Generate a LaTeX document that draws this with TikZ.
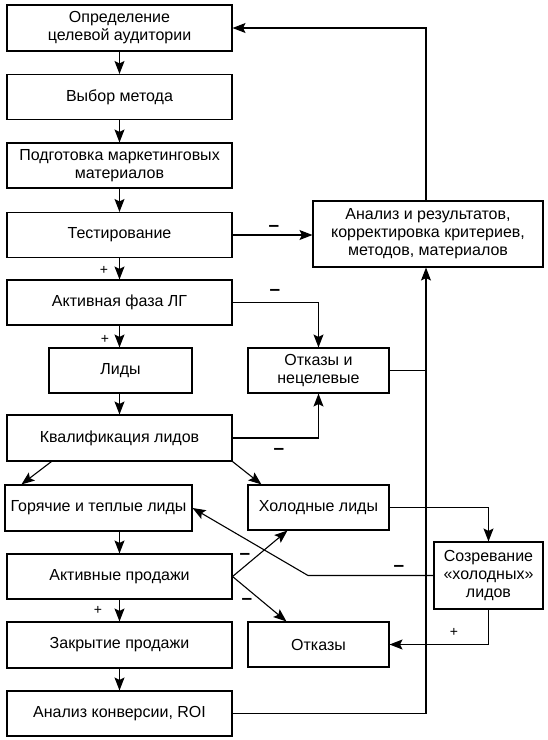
\documentclass[tikz,border=0pt]{standalone}
\usepackage{fontspec}
\setmainfont{Liberation Sans}
\usetikzlibrary{arrows.meta,calc}
\begin{document}
\begin{tikzpicture}[x=1pt,y=-1pt,
  box/.style={draw, line width=1.1pt, align=center, inner sep=0pt, font=\fontsize{16}{18}\selectfont},
  mainbox/.style={box, minimum width=225pt, minimum height=45pt},
  sidebox/.style={box, minimum width=141pt, minimum height=45pt},
  arr/.style={line width=1.1pt, -{Stealth[length=13pt,width=10pt,inset=2.5pt]}},
  ln/.style={line width=1.1pt},
  minus/.style={inner sep=0pt, font=\fontsize{19}{20}\selectfont\bfseries},
  plus/.style={inner sep=0pt, font=\fontsize{14}{15}\selectfont}]
\useasboundingbox (0,0) rectangle (548,740);
% main column
\node[mainbox, minimum height=46pt] (n1) at (119.5,28) {Определение\\целевой аудитории};
\node[mainbox] (n2) at (119.5,97) {Выбор метода};
\node[mainbox] (n3) at (119.5,165.5) {Подготовка маркетинговых\\материалов};
\node[mainbox] (n4) at (119.5,235) {Тестирование};
\node[mainbox] (n5) at (119.5,302.5) {Активная фаза ЛГ};
\node[box, minimum width=143pt, minimum height=45pt] (lid) at (120.5,370.5) {Лиды};
\node[mainbox, minimum height=46pt] (kval) at (119.5,438) {Квалификация лидов};
\node[box, minimum width=187pt, minimum height=46pt] (hot) at (98.5,508) {Горячие и теплые лиды};
\node[mainbox] (act) at (119.5,576.5) {Активные продажи};
\node[mainbox, minimum height=46pt] (close) at (119.5,645) {Закрытие продажи};
\node[mainbox] (roi) at (119.5,713.5) {Анализ конверсии, ROI};
% right side
\node[box, minimum width=230pt, minimum height=66pt] (an) at (428,234) {Анализ и результатов,\\корректировка критериев,\\методов, материалов};
\node[sidebox] (otk1) at (318.5,370.5) {Отказы и\\нецелевые};
\node[sidebox] (cold) at (318.5,507.5) {Холодные лиды};
\node[box, minimum width=109pt, minimum height=67pt] (mat) at (488.5,575.5) {Созревание\\«холодных»\\лидов};
\node[sidebox] (otk2) at (318.5,644.5) {Отказы};
% helper coordinates
\coordinate (vx) at (426,0);
\coordinate (bend) at (308,0);
% main flow
\draw[arr] (n1) -- (n2);
\draw[arr] (n2) -- (n3);
\draw[arr] (n3) -- (n4);
\draw[arr] (n4) -- (n5);
\draw[arr] (n5.south) -- (n5.south |- lid.north);
\draw[arr] (lid.south -| kval.south) -- (kval.north);
\draw[arr] (act.north |- hot.south) -- (act.north);
\draw[arr] (act) -- (close);
\draw[arr] (close) -- (roi);
% to analysis
\draw[arr] (n4.east) -- (n4.east -| an.west);
\draw[arr] (an.north -| vx) |- (n1.east);
\draw[arr] (roi.east) -| (vx |- an.south);
\draw[ln] (otk1.east) -- (otk1.east -| vx);
% refusals and nontarget
\draw[arr] (n5.east) -| (otk1.north);
\draw[arr] (kval.east) -| (otk1.south);
% qualification split
\draw[arr] ($(kval.south west)+(45,0)$) -- ($(hot.north west)+(17,0)$);
\draw[arr] (kval.south east) -- ($(cold.north west)+(14,0)$);
% active sales
\draw[arr] (act.east) -- ($(cold.south west)+(40,0)$);
\draw[arr] (act.east) -- ($(otk2.north west)+(39,0)$);
% cold leads maturation
\draw[arr] (cold.east) -| (mat.north);
\draw[arr] (mat.west) -- (mat.west -| bend) -- (hot.east);
\draw[arr] (mat.south) |- (otk2.east);
% labels
\node[minus] (m1) at (274,228) {–};
\node[minus] (m2) at (275,292) {–};
\node[minus] (m3) at (279,451) {–};
\node[minus] (m4) at (245,556) {–};
\node[minus] (m5) at (247,601) {–};
\node[minus] (m6) at (399,568) {–};
\node[plus] (p1) at (104,270) {+};
\node[plus] (p2) at (105,339) {+};
\node[plus] (p3) at (98,610) {+};
\node[plus] (p4) at (454,632) {+};
\end{tikzpicture}
\end{document}
